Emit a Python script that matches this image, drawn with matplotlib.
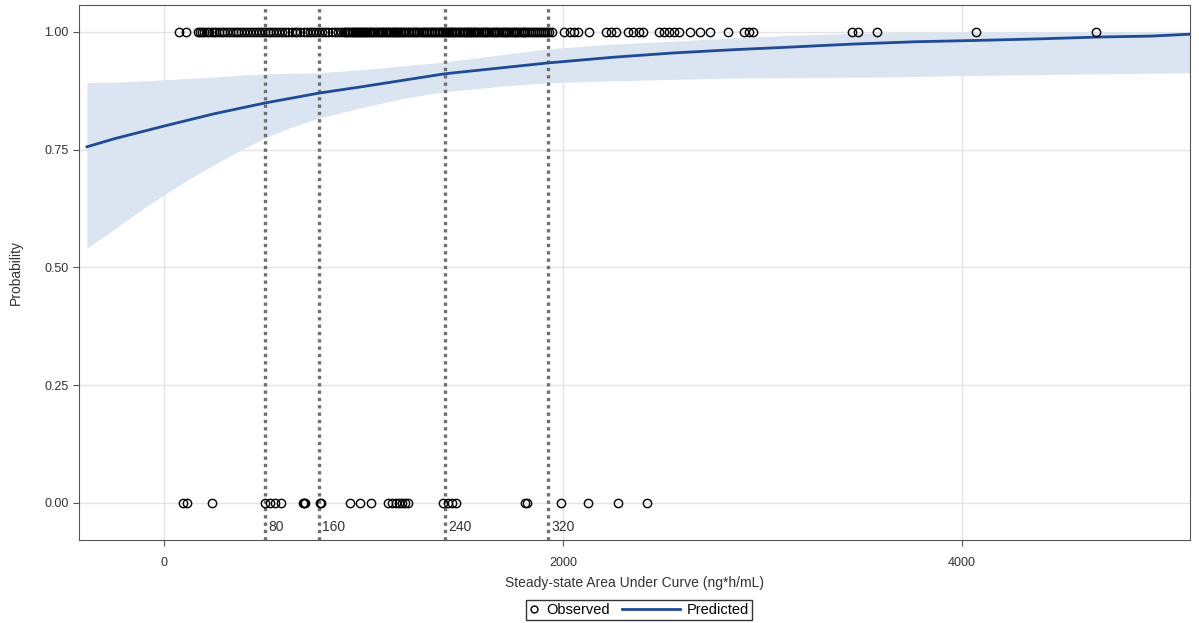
import matplotlib.pyplot as plt
from matplotlib.lines import Line2D
from matplotlib.legend_handler import HandlerBase

plt.rcParams['font.family'] = ['Liberation Sans', 'DejaVu Sans']

# predicted probability curve
curve_x = [-386, -250, 0, 250, 506, 777, 1000, 1408, 1700, 1925, 2250, 2546, 2850,
           3158, 3450, 3769, 4100, 4381, 4687, 4950, 5143]
curve_y = [0.756, 0.773, 0.800, 0.826, 0.849, 0.870, 0.884, 0.911, 0.924, 0.934, 0.946,
           0.955, 0.962, 0.968, 0.974, 0.979, 0.982, 0.985, 0.989, 0.991, 0.995]

# confidence band
band_x = [-386, -300, -200, -100, 0, 120, 250, 380, 506, 640, 777, 1000, 1200, 1408,
          1700, 1925, 2250, 2546, 2850, 3158, 3564, 4000, 4500, 5143]
band_lo = [0.541, 0.566, 0.596, 0.626, 0.654, 0.686, 0.718, 0.748, 0.775, 0.798, 0.817,
           0.840, 0.859, 0.873, 0.885, 0.892, 0.896, 0.899, 0.902, 0.903, 0.904, 0.907,
           0.910, 0.913]
band_hi = [0.892, 0.893, 0.894, 0.896, 0.898, 0.901, 0.904, 0.908, 0.911, 0.912, 0.913,
           0.920, 0.928, 0.936, 0.952, 0.964, 0.974, 0.980, 0.987, 0.993, 0.998, 1.000,
           1.000, 1.000]

# observed responders (y = 1)
obs1_x = [75, 110, 170, 180, 190, 200, 215, 225, 240, 250, 262, 275, 290, 300, 318,
          330, 345, 360, 372, 385, 400, 415, 430, 448, 460, 475, 490, 505, 520, 532,
          548, 560, 575, 590, 605, 620, 640, 655, 668, 680, 700, 715, 730, 745, 760,
          778, 790, 805, 820, 840, 858, 870, 885, 900, 908, 915, 922, 930, 940, 948,
          955, 960, 968, 975, 983, 990, 998, 1005, 1012, 1020, 1028, 1035, 1042, 1050,
          1060, 1070, 1078, 1085, 1092, 1100, 1108, 1115, 1122, 1130, 1140, 1148, 1155,
          1160, 1168, 1175, 1182, 1190, 1198, 1205, 1214, 1222, 1230, 1240, 1248, 1255,
          1262, 1270, 1280, 1290, 1298, 1305, 1312, 1320, 1330, 1338, 1345, 1352, 1360,
          1370, 1378, 1385, 1392, 1400, 1408, 1415, 1422, 1430, 1438, 1445, 1452, 1460,
          1470, 1478, 1486, 1495, 1502, 1510, 1518, 1525, 1532, 1540, 1548, 1555, 1562,
          1570, 1580, 1590, 1598, 1605, 1612, 1620, 1630, 1640, 1648, 1655, 1662, 1670,
          1680, 1690, 1698, 1705, 1712, 1720, 1730, 1740, 1748, 1755, 1762, 1770, 1780,
          1790, 1798, 1805, 1812, 1820, 1830, 1840, 1850, 1860, 1870, 1880, 1890, 1900,
          1910, 1920, 1932, 1945,
          2005, 2035, 2055, 2075, 2130, 2216, 2241, 2266, 2326, 2351, 2381, 2401,
          2481, 2506, 2531, 2556, 2581, 2637, 2687, 2737, 2827, 2907, 2932, 2952,
          3449, 3479, 3574, 4070, 4672]

# observed non-responders (y = 0)
obs0_x = [95, 115, 241, 506, 531, 556, 586, 697, 702, 707, 782, 787, 932, 982, 1038,
          1123, 1143, 1163, 1178, 1193, 1208, 1223, 1398, 1424, 1444, 1464, 1810, 1820,
          1990, 2125, 2276, 2421]

# reference lines for dose levels
dose_x = [506, 777, 1408, 1925]
dose_labels = ['80', '160', '240', '320']

line_color = '#1f4a94'


class LongLineHandler(HandlerBase):
    # legend line drawn longer to the left of its small handle box
    def create_artists(self, legend, orig_handle, xdescent, ydescent,
                       width, height, fontsize, trans):
        y = height / 2 - ydescent
        ln = Line2D([-xdescent - 4.7 * width, -xdescent + width], [y, y],
                    color=line_color, linewidth=2, transform=trans)
        return [ln]


fig = plt.figure(figsize=(11.99, 6.23), dpi=100)
ax = fig.add_axes([0.0659, 0.1332, 0.9266, 0.8588])

ax.fill_between(band_x, band_lo, band_hi, color='#dbe4f1', linewidth=0, zorder=1)
pred, = ax.plot(curve_x, curve_y, color=line_color, linewidth=2, zorder=3, label='Predicted')

obs, = ax.plot(obs1_x, [1] * len(obs1_x), 'o', mfc='none', mec='black', mew=1,
               ms=6, zorder=4, label='Observed')
ax.plot(obs0_x, [0] * len(obs0_x), 'o', mfc='none', mec='black', mew=1, ms=6, zorder=4)

for dx, lab in zip(dose_x, dose_labels):
    ax.axvline(dx, color='#707070', linestyle=(0, (1, 1.2)), linewidth=2.4, zorder=2)
    ax.text(dx + 15, -0.052, lab, fontsize=10, color='#333333', va='center', ha='left')

ax.set_xlim(-426, 5143)
ax.set_ylim(-0.0786, 1.057)
ax.set_xticks([0, 2000, 4000])
ax.set_yticks([0, 0.25, 0.5, 0.75, 1.0])
ax.set_yticklabels(['0.00', '0.25', '0.50', '0.75', '1.00'])
ax.grid(True, color='#e4e4e4', linewidth=1)
ax.set_axisbelow(True)
ax.tick_params(labelsize=9, colors='#333333', length=4, color='#555555')
ax.tick_params(axis='x', pad=8)
for s in ax.spines.values():
    s.set_color('#555555')

ax.set_xlabel('Steady-state Area Under Curve (ng*h/mL)', fontsize=10, color='#333333', labelpad=5)
fig.text(16 / 1199, 1 - 272 / 623, 'Probability', rotation=90, fontsize=10,
         color='#333333', ha='center', va='center')

leg = fig.legend(handles=[obs, pred], loc='lower center', bbox_to_anchor=(0.533, 0.0),
                 ncol=2, fontsize=10.5, frameon=True, fancybox=False, handlelength=0.7,
                 borderpad=0.2, columnspacing=4.1, handletextpad=0.5, borderaxespad=0.2,
                 handler_map={pred: LongLineHandler()})
leg.get_frame().set_edgecolor('black')
leg.get_frame().set_linewidth(1)
leg.legend_handles[0].set_markersize(5)

fig.savefig('out.png', dpi=100)
